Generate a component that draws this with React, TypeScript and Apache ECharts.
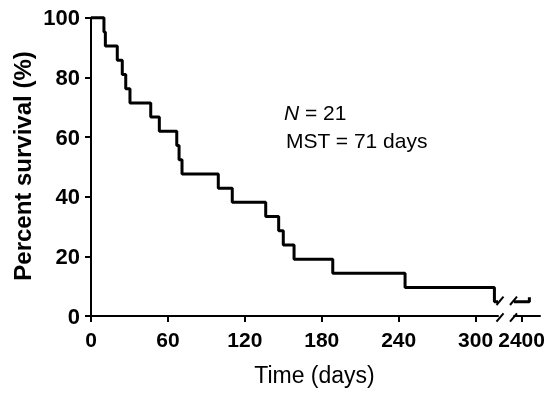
import React, { useEffect, useRef } from "react";
import * as echarts from "echarts";

// Kaplan–Meier event times (days) and survival (%) after each event
const eventTimes = [0, 10.1, 11.2, 20.5, 24.4, 27.1, 30.4, 46.6, 53.3, 66.9, 68.7, 71.0, 99.3, 110.2, 136.3, 146.4, 150.0, 158.4, 188.6, 245.0, 314.7];
const survival = [100, 95.24, 90.48, 85.71, 80.95, 76.19, 71.43, 66.67, 61.9, 57.14, 52.38, 47.62, 42.86, 38.1, 33.33, 28.57, 23.81, 19.05, 14.29, 9.52, 4.76];
// broken axis: first segment ends here, second segment covers tailRange
const segmentOneEnd = 317.5;
const tailRange = [2394.1, 2414.4];
const tailTimes = [2394.1, 2406.1, 2406.1];
const tailSurvival = [4.76, 4.76, 6.3];
const xTicksMain = [0, 60, 120, 180, 240, 300];
const xTicksTail = [2400];
const yTicks = [0, 20, 40, 60, 80, 100];

const FONT = "'Liberation Sans', Arial, Helvetica, sans-serif";

export default function App() {
  const ref = useRef<HTMLDivElement>(null);
  useEffect(() => {
    if (!ref.current) return;
    const chart = echarts.init(ref.current, null, { renderer: "svg" });
    const axisLine = { show: true, lineStyle: { color: "#000", width: 2 } };
    const axisTick = { show: true, length: 6, lineStyle: { color: "#000", width: 2 } };
    const xLabel = { color: "#000", fontSize: 21, fontWeight: "bold" as const, fontFamily: FONT, formatter: (v: number) => String(v) };
    const yLabel = { color: "#000", fontSize: 22, fontWeight: "bold" as const, fontFamily: FONT, formatter: (v: number) => String(v) };
    const mainData = eventTimes.map((t, i) => [t, survival[i]]);
    mainData.push([segmentOneEnd, survival[survival.length - 1]]);
    const tailData = tailTimes.map((t, i) => [t, tailSurvival[i]]);
    chart.setOption({
      animation: false,
      grid: [
        { left: 91, top: 17.7, width: 407, bottom: 81 },
        { left: 514, top: 17.7, width: 26, bottom: 81 },
      ],
      xAxis: [
        {
          type: "value", gridIndex: 0, min: 0, max: segmentOneEnd,
          axisLine, splitLine: { show: false },
          axisTick: { ...axisTick, customValues: xTicksMain },
          axisLabel: { ...xLabel, margin: 13, customValues: xTicksMain },
        },
        {
          type: "value", gridIndex: 1, min: tailRange[0], max: tailRange[1],
          axisLine, splitLine: { show: false },
          axisTick: { ...axisTick, customValues: xTicksTail },
          axisLabel: { ...xLabel, margin: 13, customValues: xTicksTail },
        },
      ],
      yAxis: [
        {
          type: "value", gridIndex: 0, min: 0, max: 100, interval: 20,
          axisLine, splitLine: { show: false },
          axisTick: { ...axisTick, customValues: yTicks },
          axisLabel: { ...yLabel, margin: 11, customValues: yTicks },
        },
        { type: "value", gridIndex: 1, min: 0, max: 100, show: false },
      ],
      series: [
        {
          type: "line", xAxisIndex: 0, yAxisIndex: 0, data: mainData, step: "end",
          showSymbol: false, lineStyle: { color: "#000", width: 3 }, clip: false,
        },
        {
          type: "line", xAxisIndex: 1, yAxisIndex: 1, data: tailData,
          showSymbol: false, lineStyle: { color: "#000", width: 3 }, clip: false,
        },
      ],
    });
    const endPt = chart.convertToPixel({ xAxisIndex: 0, yAxisIndex: 0 }, [segmentOneEnd, survival[survival.length - 1]]) as number[];
    const startPt = chart.convertToPixel({ xAxisIndex: 1, yAxisIndex: 1 }, [tailTimes[0], tailSurvival[0]]) as number[];
    const axisY = (chart.convertToPixel({ xAxisIndex: 0, yAxisIndex: 0 }, [0, 0]) as number[])[1];
    const slash = (cx: number, cy: number) => ({
      type: "line",
      shape: { x1: cx - 3.5, y1: cy + 4.2, x2: cx + 3.5, y2: cy - 4.2 },
      style: { stroke: "#000", lineWidth: 2 },
      z: 10,
    });
    chart.setOption({
      graphic: [
        slash(endPt[0] + 2, endPt[1] - 1),
        slash(startPt[0] - 0.5, startPt[1] - 1),
        slash(endPt[0] + 2, axisY + 1.5),
        slash(startPt[0] - 0.5, axisY + 1.5),
        {
          type: "text", x: 22.5, y: 166, rotation: Math.PI / 2,
          style: { text: "Percent survival (%)", fill: "#000", font: `bold 24px ${FONT}`, align: "center", verticalAlign: "middle" },
        },
        {
          type: "text", x: 314.5, y: 375,
          style: { text: "Time (days)", fill: "#000", font: `23px ${FONT}`, align: "center", verticalAlign: "middle" },
        },
        {
          type: "text", x: 284, y: 112,
          style: {
            text: "{i|N} = 21", fill: "#000", font: `21px ${FONT}`, align: "left", verticalAlign: "middle",
            rich: { i: { fontStyle: "italic", fontSize: 21, fontFamily: FONT, fill: "#000" } },
          },
        },
        {
          type: "text", x: 286, y: 140,
          style: { text: "MST = 71 days", fill: "#000", font: `21px ${FONT}`, align: "left", verticalAlign: "middle" },
        },
      ],
    });
    return () => chart.dispose();
  }, []);
  return <div ref={ref} style={{ position: "fixed", left: 0, top: 0, width: 550, height: 397 }} />;
}
